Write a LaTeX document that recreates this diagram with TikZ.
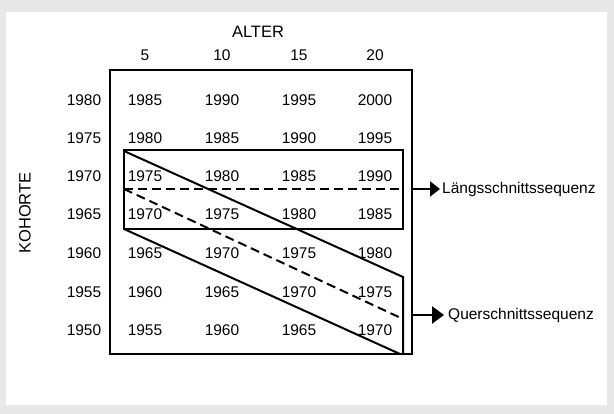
\documentclass[tikz,border=0pt]{standalone}
\usepackage{fontspec}
\setmainfont{Liberation Sans}
\usetikzlibrary{arrows.meta}
\definecolor{bggray}{HTML}{E8E8E8}
\begin{document}
\begin{tikzpicture}[x=1pt,y=-1pt,
  cell/.style={font=\fontsize{15.5}{18}\selectfont, inner sep=0pt},
  axislabel/.style={font=\fontsize{16.5}{19}\selectfont, inner sep=0pt},
  seqlabel/.style={font=\fontsize{15.5}{18}\selectfont, inner sep=0pt, anchor=west},
  frame/.style={line width=2pt, line join=miter},
  dline/.style={line width=2pt, dash pattern=on 9pt off 5pt},
  seqarrow/.style={line width=2.3pt, -{Triangle[length=10pt,width=15pt]}},
  seqarrowq/.style={line width=2.3pt, -{Triangle[length=12pt,width=17pt]}}]
\fill[bggray] (0,0) rectangle (614,414);
\useasboundingbox (0,0) rectangle (614,414);
\fill[white] (6,12) rectangle (607,405);
% axis labels
\node[axislabel] (alter) at (258,32) {ALTER};
\node[axislabel, rotate=90] (kohorte) at (25,213) {KOHORTE};
% column headers
\foreach \a/\x in {5/145,10/222,15/299,20/375}
  \node[cell] (age\a) at (\x,55) {\a};
% rows
\foreach \c/\y [count=\r] in {1980/100,1975/138,1970/176,1965/214,1960/253,1955/292,1950/330} {
  \node[cell] (coh\r) at (84,\y) {\c};
  \foreach \x [count=\j] in {145,222,299,375} {
    \pgfmathtruncatemacro{\yr}{\c+5*\j}
    \node[cell] (cell\r-\j) at (\x,\y) {\yr};
  }
}
% outer box
\draw[frame] (110,70) rectangle (412,354);
% inner rectangle (Laengsschnitt)
\draw[frame] (124,150) rectangle (403,229);
% diagonal band (Querschnitt)
\draw[frame] (124,151) -- (403,277) -- (403,354);
\draw[frame] (124,229) -- (400,354);
% dashed lines
\draw[dline] (124,189) -- (403,189);
\draw[dline] (124,189) -- (403,319);
% arrows and labels
\coordinate (lstart) at (412,189);
\coordinate (qstart) at (412,315);
\node[seqlabel] (laengs) at (442,189) {Längsschnittssequenz};
\node[seqlabel] (quer) at (448,315) {Querschnittssequenz};
\draw[seqarrow] (lstart) -- ([xshift=-2pt]laengs.west);
\draw[seqarrowq] (qstart) -- ([xshift=-4pt]quer.west);
\end{tikzpicture}
\end{document}
